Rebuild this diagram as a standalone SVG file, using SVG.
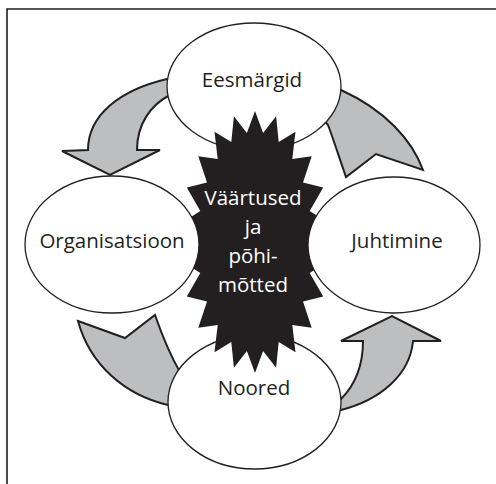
<svg xmlns="http://www.w3.org/2000/svg" width="496" height="484" viewBox="0 0 496 484">
<style>
.frame{fill:none;stroke:#231f20;stroke-width:1.6}
.arrow{fill:#bcbec0;stroke:#231f20;stroke-width:2;stroke-linejoin:miter}
.node{fill:#fff;stroke:#231f20;stroke-width:1.3}
.star{fill:#231f20;stroke:none}
.lbl{font-family:"Open Sans","Noto Sans",sans-serif;font-size:20.5px;fill:#231f20;text-anchor:middle}
.wlbl{font-family:"Open Sans","Noto Sans",sans-serif;font-size:20.5px;fill:#fff;text-anchor:middle}
</style>
<rect width="496" height="484" fill="#fff"/>
<path class="frame" d="M7,484 V9 H496"/>
<g id="connectors">
<path class="arrow" d="M185,80 L167,79 C120,90 88,115 88,150 L62,151 L110,175 L160,150 L137,150 C137,125 150,105 170,95 L185,95 Z"/>
<path class="arrow" d="M320,85 L341,90 C385,110 412,140 423,170 L376,154 L346,177 C340,160 333,138 328,125 L315,110 Z"/>
<path class="arrow" d="M78,321 L125,338 L155,315 C162,335 170,355 180,372 L195,400 L168,405 C125,395 90,365 78,321 Z"/>
<path class="arrow" d="M325,395 L341,399 C355,385 363,365 363,341 L341,341 L392,316 L441,341 L413,341 C410,375 380,400 341,410 L325,410 Z"/>
</g>
<g id="eesmargid">
<ellipse class="node" cx="254" cy="86.5" rx="87" ry="63.5"/>
<text class="lbl" x="252" y="87">Eesmärgid</text>
</g>
<g id="noored">
<ellipse class="node" cx="254.5" cy="402" rx="86.5" ry="67"/>
<text class="lbl" x="254" y="395">Noored</text>
</g>
<g id="vaartused">
<polygon class="star" points="255,111 263.1,133.1 276.1,116.3 278.7,141.9 295.5,131.8 292.3,158.9 311.7,156.2 303,182.5 323.2,187.6 309.7,211 329.2,223.4 312,242 329.2,260.6 309.7,273 323.2,296.4 303,301.5 311.7,327.8 292.3,325.1 295.5,352.2 278.7,342.1 276.1,367.7 263.1,350.9 255,373 246.9,350.9 233.9,367.7 231.3,342.1 214.5,352.2 217.7,325.1 198.3,327.8 207,301.5 186.8,296.4 200.3,273 180.8,260.6 198,242 180.8,223.4 200.3,211 186.8,187.6 207,182.5 198.3,156.2 217.7,158.9 214.5,131.8 231.3,141.9 233.9,116.3 246.9,133.1"/>
</g>
<g id="organisatsioon">
<ellipse class="node" cx="112" cy="244.5" rx="87" ry="68.5"/>
<text class="lbl" x="112" y="248">Organisatsioon</text>
</g>
<g id="juhtimine">
<ellipse class="node" cx="394" cy="245" rx="86" ry="68"/>
<text class="lbl" x="397" y="248">Juhtimine</text>
</g>
<g id="star-text">
<text class="wlbl" x="253" y="205">Väärtused</text>
<text class="wlbl" x="253" y="234">ja</text>
<text class="wlbl" x="253" y="263">põhi-</text>
<text class="wlbl" x="253" y="292">mõtted</text>
</g>
</svg>
